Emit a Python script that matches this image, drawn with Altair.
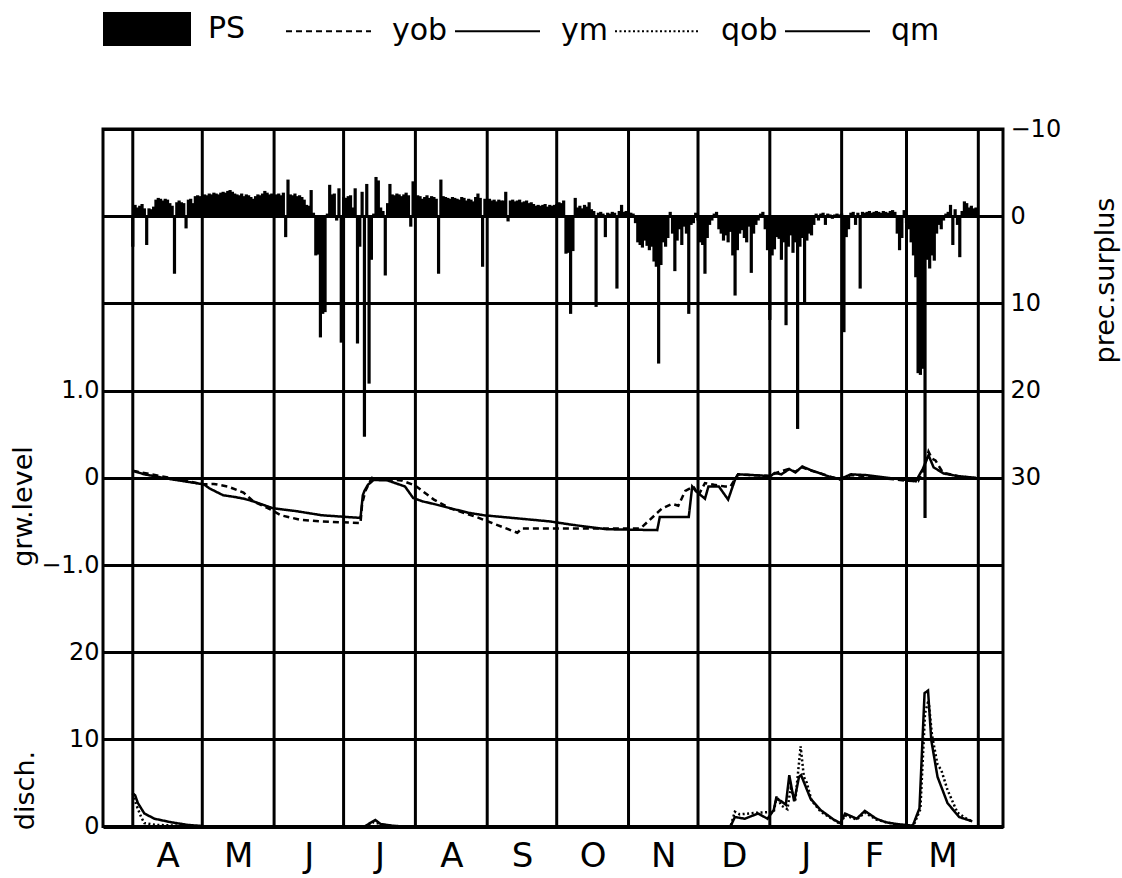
import altair as alt
import pandas as pd

FONT = "DejaVu Sans"

# ---- precipitation surplus (mm/day), one value per day from 1 April ----
ps_apr = [3.5, -1.3, -1.0, -1.2, -1.4, -0.9, 3.3, -0.9, -0.8, -1.1, -1.9, -2.1, -2.0, -1.8, -2.0,
          -1.9, -1.5, -1.2, 6.6, -1.6, -1.8, -1.6, -1.5, 1.4, -1.9, -2.0, -1.5, -2.3, -2.4, -2.3]
ps_may = [-2.3, -2.5, -2.4, -2.6, -2.5, -2.7, -2.6, -2.5, -2.7, -2.8, -2.7, -2.9, -3.0, -2.8, -2.6, -2.5,
          -2.4, -2.6, -2.3, -2.5, -2.4, -2.2, -2.0, -2.3, -2.5, -2.4, -2.6, -2.9, -2.7, -2.5, -2.6]
ps_jun = [-2.4, -2.5, -2.6, -2.4, -2.7, 2.4, -4.2, -2.5, -2.4, -2.6, -2.3, -2.4, -2.2, -1.9, -1.3,
          -1.2, -3.0, -0.4, 4.5, 4.4, 13.9, 11.2, 11.0, -0.3, -3.6, -2.5, -2.6, 0.5, -3.2, 14.5]
ps_jul = [-2.2, -2.1, -2.3, -2.4, -1.0, -3.2, 14.6, 3.5, -2.8, 25.3, -3.7, 19.2, 5.0, -0.3, -4.5, -4.1,
          -1.0, -0.6, 6.8, -1.5, -3.7, -2.5, -2.4, -2.6, -2.5, -2.3, -2.5, -2.7, -2.4, 1.2, -4.0]
ps_aug = [-2.2, -2.4, -2.3, -2.0, -2.2, -2.4, -2.1, -2.3, -2.2, -2.0, 6.6, -4.2, -2.3, -2.2, -2.1, -2.0,
          -2.2, -2.1, -2.0, -1.9, -2.2, -2.1, -1.8, -2.0, -1.9, -1.7, -2.2, -2.6, -2.1, 5.8, -2.0]
ps_sep = [-1.9, -2.0, -1.8, -1.9, -1.7, -1.9, -1.8, -1.8, -2.8, 0.6, -1.8, -1.9, -1.7, -1.8, -1.9,
          -1.6, -1.7, -1.8, -1.5, -1.6, -1.4, -1.2, -1.3, -1.2, -1.3, -1.4, -1.1, -1.3, -1.2, -1.3]
ps_oct = [-1.4, -1.6, -1.5, -1.8, 4.3, 4.2, 11.2, 4.0, -2.1, -1.0, -1.2, -0.9, -1.3, -1.1, -1.6, -0.8,
          -0.6, 10.4, -0.4, -0.5, -0.3, 2.4, -0.4, -0.3, -0.5, -0.4, 8.3, -0.6, -1.3, -0.5, -0.6]
ps_nov = [-0.5, -0.4, -0.3, 0.8, 3.0, 3.3, 3.6, 2.8, 3.4, 3.9, 3.5, 5.2, 5.8, 16.9, 5.6,
          3.0, 3.5, 2.5, -0.5, 2.0, 6.3, 2.8, 1.5, 3.3, 1.2, 2.0, 11.2, 1.0, 0.8, -0.4]
ps_dec = [0.5, 3.0, 3.3, 6.6, 2.5, 1.0, 0.5, -0.3, -0.5, 1.5, 2.0, 2.8, 2.2, 3.0, 1.8, 4.5,
          9.1, 3.9, 2.0, 1.6, 2.5, 3.0, 1.2, 6.5, 2.0, 1.0, 0.5, -0.3, -0.5, 1.5, 3.9]
ps_jan = [11.9, 4.5, 3.8, 2.4, 2.6, 5.0, 3.0, 12.5, 3.5, 2.2, 4.2, 3.0, 24.4, 3.5, 2.5, 10.0,
          2.8, 2.0, 2.2, 1.0, -0.3, 0.5, -0.3, -0.4, 1.0, -0.3, -0.2, 0.3, -0.2, -0.3, -0.2]
ps_feb = [-0.3, 13.3, 2.4, 1.5, -0.4, -0.5, 1.0, -0.4, 8.3, -0.5, -0.4, -0.5, -0.6, -0.4,
          -0.5, -0.6, -0.5, -0.4, -0.6, -0.5, -0.4, -0.6, -0.7, -0.5, 2.0, 3.9, 2.5, -0.7]
ps_mar = [0.8, 1.5, 3.0, 4.5, 7.0, 18.0, 18.2, 17.5, 34.6, 5.0, 6.0, 4.5, 5.1, 2.0, 1.0, 1.5,
          0.5, -0.3, -0.5, -1.3, 3.3, -0.8, 1.0, 4.7, -0.6, -1.7, -1.5, -1.0, -1.2, -0.9, -1.0]

# ---- groundwater level (m): observed (yob) and model (ym), day index from 1 April ----
yob_day = [0, 30.7, 35, 41, 47.8, 52, 58.5, 64, 72, 81.7, 98.3, 99, 100.4, 103.2, 116, 122, 130, 137,
           148.4, 166, 168, 180, 218.6, 220, 228.5, 232.8, 235.5, 238.5, 242, 244.2, 247, 251, 255.6,
           258, 261.3, 275, 278, 283, 286, 289, 293, 297, 305, 310, 317, 326, 333, 339, 341.5,
           343.5, 345, 346.5, 349.7, 356, 364]
yob_val = [0.08, -0.075, -0.07, -0.1, -0.17, -0.27, -0.35, -0.43, -0.48, -0.5, -0.52, -0.3, -0.15,
           0.0, -0.03, -0.09, -0.25, -0.35, -0.45, -0.63, -0.58, -0.58, -0.58, -0.56, -0.35, -0.3,
           -0.32, -0.15, -0.1, -0.2, -0.06, -0.08, -0.1, -0.1, 0.04, 0.02, 0.06, 0.1, 0.07, 0.12,
           0.08, 0.05, -0.02, 0.03, 0.02, -0.01, -0.03, -0.04, 0.1, 0.3, 0.22, 0.2, 0.06, 0.02, -0.01]
ym_day = [0, 5, 15, 30.7, 33, 39, 44, 48, 52, 60.6, 70, 81.7, 98.3, 99.3, 100, 101.5, 104, 110,
          117.5, 121, 125, 130, 144.6, 151.7, 180, 190, 204.4, 226.4, 227.5, 240, 241.5, 243, 247,
          248.5, 253, 257, 260, 261.3, 275.4, 277, 280, 283.4, 286, 289, 292.5, 296.8, 301, 305.3,
          310, 317, 325.6, 332.5, 338, 341, 343.5, 345.7, 350, 356, 364]
ym_val = [0.08, 0.04, -0.01, -0.075, -0.12, -0.2, -0.22, -0.24, -0.27, -0.35, -0.38, -0.43, -0.46,
          -0.2, -0.15, -0.08, -0.025, -0.03, -0.1, -0.23, -0.27, -0.3, -0.4, -0.43, -0.5, -0.54,
          -0.59, -0.6, -0.45, -0.45, -0.1, -0.15, -0.24, -0.1, -0.1, -0.25, -0.02, 0.04, 0.02, 0.055,
          0.04, 0.1, 0.06, 0.13, 0.09, 0.05, 0.01, -0.015, 0.04, 0.03, 0.0, -0.02, -0.04, 0.1, 0.26,
          0.12, 0.05, 0.02, 0.0]

# ---- discharge: observed (qob) and model (qm) ----
qob_day = [0, 1.5, 3.6, 5, 10, 20, 30, 100, 104, 110, 118, 258, 259.9, 262, 270, 276.7, 278, 280,
           282.6, 284, 286, 288.3, 289.7, 291, 293, 297, 303, 305.4, 307.5, 312.5, 316, 321, 329.6,
           337, 340, 342, 343.5, 345, 347.4, 349, 351.7, 356, 360, 362.4]
qob_val = [3.8, 2.5, 1.1, 0.4, 0.2, 0.1, 0.0, 0.0, 0.5, 0.1, 0.0, 0.0, 1.7, 1.4, 1.6, 1.7, 3.5, 2.4,
           2.0, 4.4, 3.0, 9.2, 5.7, 5.0, 3.0, 1.7, 0.7, 0.3, 1.3, 0.8, 1.6, 0.8, 0.2, 0.1, 2.0, 13.0,
           14.5, 10.5, 7.1, 6.5, 4.2, 1.6, 0.9, 0.6]
qm_day = [0, 1, 2.2, 5, 9.4, 16.5, 23.6, 30.7, 35, 100, 103, 104.7, 107, 112, 118, 258, 259.9, 264.2,
          267, 270, 274, 276.7, 277.7, 280, 281.9, 283.4, 285.5, 287.6, 288.5, 289.7, 292.6, 296.9,
          302.6, 305.4, 307.5, 310, 312.5, 316, 321, 325, 329.6, 336.7, 339.6, 341.8, 343.3, 344.7,
          347.4, 351.7, 356.7, 362.4]
qm_val = [3.8, 3.6, 2.7, 1.5, 0.9, 0.5, 0.2, 0.05, 0.0, 0.0, 0.5, 0.75, 0.3, 0.1, 0.0, 0.0, 1.1, 0.9,
          1.2, 1.5, 0.9, 1.9, 3.2, 2.9, 2.5, 5.9, 2.9, 5.7, 5.9, 5.1, 3.2, 1.9, 0.8, 0.4, 1.5, 1.2,
          0.9, 1.8, 0.9, 0.5, 0.3, 0.1, 2.1, 15.3, 15.6, 9.9, 5.7, 2.7, 1.1, 0.6]

# ---- calendar ----
month_starts = [0, 30, 61, 91, 122, 153, 183, 214, 244, 275, 306, 334, 365]
month_mid = [15, 45.5, 76, 106.5, 137.5, 168, 198.5, 229, 259.5, 290.5, 320, 349.5]
month_letters = ["A", "M", "J", "J", "A", "S", "O", "N", "D", "J", "F", "M"]

ps_ticks = [-10, 0, 10, 20, 30, 40, 50, 60, 70]
grw_ticks = [-1, 0, 1]
q_ticks = [0, 10, 20]

series_order = ["yob", "ym", "qob", "qm"]

# ---- tables ----
ps_all = ps_apr + ps_may + ps_jun + ps_jul + ps_aug + ps_sep + ps_oct + ps_nov + ps_dec + ps_jan + ps_feb + ps_mar
ps_df = pd.DataFrame({"day": list(range(len(ps_all))), "ps": ps_all, "series": "PS"})
gw_df = pd.concat([
    pd.DataFrame({"day": yob_day, "g": yob_val, "series": "yob"}),
    pd.DataFrame({"day": ym_day, "g": ym_val, "series": "ym"}),
])
q_df = pd.concat([
    pd.DataFrame({"day": qob_day, "q": qob_val, "series": "qob"}),
    pd.DataFrame({"day": qm_day, "q": qm_val, "series": "qm"}),
])
grid_df = pd.DataFrame({"day": month_starts})

label_expr = " : ".join(f"datum.value == {m} ? '{l}'" for m, l in zip(month_mid, month_letters)) + " : ''"

xscale = alt.Scale(domain=[-10.7, 373.5], nice=False, zero=False)
x_axis = alt.Axis(values=month_mid, labelExpr=label_expr, title=None, grid=False, ticks=False,
                  tickSize=0, domain=False, labelFontSize=34, labelFont=FONT, labelColor="black",
                  labelPadding=40, labelBaseline="alphabetic", labelAngle=0, labelOverlap=False)


def xenc():
    return alt.X("day:Q", scale=xscale, axis=x_axis)


dash_scale = alt.Scale(domain=series_order, range=[[6, 4], [1, 0], [2, 2.5], [1, 0]])
line_legend = alt.Legend(orient="none", legendX=182, legendY=-141.5, direction="horizontal",
                         title=None, symbolType="stroke", symbolSize=7225, symbolStrokeWidth=2,
                         symbolStrokeColor="black", labelFontSize=30, labelFont=FONT,
                         labelColor="black", labelOffset=20, columnPadding=3, padding=0)

ps_axis = alt.Axis(orient="right", values=ps_ticks, labelExpr="datum.value <= 30 ? datum.label : ''",
                   grid=True, gridColor="black", gridWidth=3, gridOpacity=1, ticks=False, domain=False,
                   labelFontSize=24, labelFont=FONT, labelColor="black", labelPadding=7,
                   labelAlign="left", labelBaseline="middle", labelOverlap=False, labelBound=False,
                   title="prec.surplus", titleFontSize=27, titleFont=FONT, titleFontWeight="normal",
                   titleColor="black", titleAngle=270, titleX=102, titleY=151, titleAlign="center",
                   titleBaseline="middle")

grw_axis = alt.Axis(orient="left", offset=0, values=grw_ticks,
                    labelExpr="datum.value == 0 ? '0' : format(datum.value, '.1f')",
                    grid=False, ticks=False, domain=False, labelFontSize=24, labelFont=FONT,
                    labelColor="black", labelPadding=4, labelOverlap=False,
                    title="grw.level", titleFontSize=27, titleFont=FONT, titleFontWeight="normal",
                    titleColor="black", titleAngle=270, titleX=-80, titleY=377, titleAlign="center",
                    titleBaseline="middle")

q_axis = alt.Axis(orient="left", offset=0, values=q_ticks, grid=False, ticks=False, domain=False,
                  labelFontSize=24, labelFont=FONT, labelColor="black", labelPadding=4,
                  labelOverlap=False,
                  title="disch.", titleFontSize=27, titleFont=FONT, titleFontWeight="normal",
                  titleColor="black", titleAngle=270, titleX=-78, titleY=661, titleAlign="center",
                  titleBaseline="middle")

bars = alt.Chart(ps_df).mark_bar(width=3.2).encode(
    x=xenc(),
    y=alt.Y("ps:Q", scale=alt.Scale(domain=[-10, 70], reverse=True, nice=False, zero=False), axis=ps_axis),
    y2=alt.datum(0),
    fill=alt.Fill("series:N", scale=alt.Scale(domain=["PS"], range=["black"]),
                  legend=alt.Legend(orient="none", legendX=0, legendY=-144, title=None,
                                    direction="horizontal",
                                    symbolType="M-1,-0.386L1,-0.386L1,0.386L-1,0.386Z",
                                    symbolSize=7744, symbolStrokeWidth=0, labelFontSize=30,
                                    labelFont=FONT, labelColor="black", labelOffset=17, padding=0)),
)

vgrid = alt.Chart(grid_df).mark_rule(color="black", strokeWidth=3).encode(x=xenc())

gw = alt.Chart(gw_df).mark_line(color="black", strokeWidth=2.5).encode(
    x=xenc(),
    y=alt.Y("g:Q", scale=alt.Scale(domain=[-4, 4], nice=False, zero=False), axis=grw_axis),
    strokeDash=alt.StrokeDash("series:N", scale=dash_scale, legend=line_legend),
    order=alt.Order("day:Q"),
)

qq = alt.Chart(q_df).mark_line(color="black", strokeWidth=2.5).encode(
    x=xenc(),
    y=alt.Y("q:Q", scale=alt.Scale(domain=[0, 80], nice=False, zero=False), axis=q_axis),
    strokeDash=alt.StrokeDash("series:N", scale=dash_scale, legend=line_legend),
    order=alt.Order("day:Q"),
)

chart = alt.layer(bars, vgrid, gw, qq).resolve_scale(
    y="independent", strokeDash="shared"
).resolve_axis(y="independent").properties(
    width=900, height=697.6,
    autosize=alt.AutoSizeParams(type="none"),
    padding={"left": 103, "top": 129, "right": 119, "bottom": 51.4},
    background="white",
).configure_view(stroke="black", strokeWidth=3)

chart.save("out.html", embed_options={"renderer": "svg", "actions": False})
